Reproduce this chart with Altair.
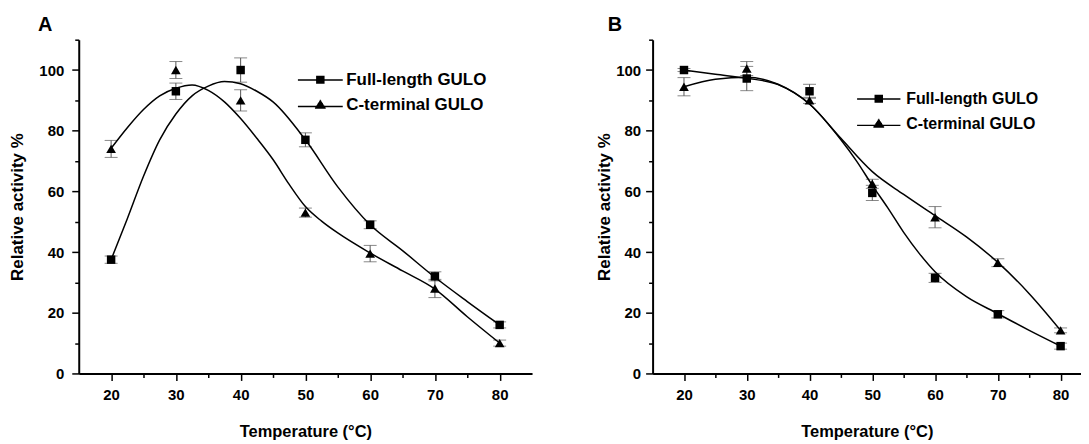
import altair as alt
import pandas as pd

TEMPS = [20, 30, 40, 50, 60, 70, 80]
SERIES = ["Full-length GULO", "C-terminal GULO"]

# Panel A measured points (mean, error)
A_FULL = [37.5, 93, 100, 77, 49, 32, 16]
A_FULL_ERR = [1.2, 2.7, 4.0, 2.3, 1.3, 1.5, 1.0]
A_CTERM = [74, 100, 90, 53, 39.5, 28, 10]
A_CTERM_ERR = [2.8, 2.8, 3.5, 1.5, 2.7, 3.0, 1.0]

# Panel A fitted curves
A_FULL_FIT_T = [20, 22.5, 25, 27.5, 30, 32.5, 35, 37.5, 40, 42.5, 45, 50, 55, 60, 65, 70, 75, 80]
A_FULL_FIT = [37.5, 51, 65, 77, 85.5, 91.5, 94.7, 96.2, 95.5, 93, 89.5, 77, 61.5, 49, 40.5, 31.7, 23.7, 16]
A_CTERM_FIT_T = [20, 22.5, 25, 27.5, 30, 32.5, 35, 37.5, 40, 42.5, 45, 47.5, 50, 52.5, 55, 60, 65, 70, 75, 80]
A_CTERM_FIT = [74.2, 81, 87, 91.5, 94, 95.1, 93.3, 89.5, 84, 77.5, 70.5, 62.3, 55, 50.2, 46.3, 39.7, 33.8, 27.8, 18.7, 10]

# Panel B measured points (mean, error)
B_FULL = [100, 97.2, 93, 59.5, 31.5, 19.5, 9]
B_FULL_ERR = [0.5, 4.0, 2.3, 2.5, 1.5, 1.2, 1.0]
B_CTERM = [94.5, 100.5, 90, 62.5, 51.5, 36.5, 14.2]
B_CTERM_ERR = [3.0, 2.3, 1.0, 1.5, 3.5, 1.3, 0.8]

# Panel B fitted curves
B_FULL_FIT_T = [20, 25, 30, 35, 40, 45, 47.5, 50, 52.5, 55, 57.5, 60, 65, 70, 75, 80]
B_FULL_FIT = [100, 98.6, 97.3, 95.2, 88.8, 77, 70, 62, 54.5, 46.5, 39.5, 33.5, 25.3, 19.7, 14.2, 9]
B_CTERM_FIT_T = [20, 25, 30, 35, 40, 45, 50, 55, 60, 65, 70, 75, 80]
B_CTERM_FIT = [94.5, 97, 97.6, 95.3, 88.8, 77.5, 66.5, 59, 52, 45, 36.6, 26.3, 14.2]

X_TICKS = [20, 25, 30, 35, 40, 45, 50, 55, 60, 65, 70, 75, 80]
Y_TICKS = [0, 10, 20, 30, 40, 50, 60, 70, 80, 90, 100, 110]

FONT = "Liberation Sans"


def legend_paths(half):
    # legend glyphs: a horizontal line with a marker drawn from stacked strokes
    step = 0.22
    sq = [f"M-{half},0H{half}"]
    y = -0.72
    while y <= 0.73:
        sq.append(f"M-0.85,{y:.2f}H0.85")
        y += step
    tri = [f"M-{half},0.3H{half}"]
    y = -0.9
    while y <= 0.68:
        hw = 1.15 * (y + 1.05) / 1.8
        tri.append(f"M{-hw:.2f},{y:.2f}H{hw:.2f}")
        y += step
    return ["".join(sq), "".join(tri)]


def panel(label, full, full_err, cterm, cterm_err, full_fit_t, full_fit, cterm_fit_t, cterm_fit,
          width, height, xmax, title_dx, ytitle_pad, ylabel_pad, leg_x, leg_y, leg_half,
          leg_font, leg_row_pad, leg_label_offset):
    pts = pd.DataFrame({
        "temp": TEMPS * 2,
        "value": full + cterm,
        "err": full_err + cterm_err,
        "series": [SERIES[0]] * len(TEMPS) + [SERIES[1]] * len(TEMPS),
    })
    fit = pd.DataFrame({
        "temp": full_fit_t + cterm_fit_t,
        "value": full_fit + cterm_fit,
        "series": [SERIES[0]] * len(full_fit_t) + [SERIES[1]] * len(cterm_fit_t),
    })

    x_axis = alt.Axis(
        values=X_TICKS,
        labelExpr="datum.value % 10 == 0 ? datum.label : ''",
        tickSize={"condition": {"test": "datum.value % 10 == 0", "value": 7}, "value": 4},
        labelPadding=7, titlePadding=21, labelOverlap=False, labelFlush=False,
        titleFontSize=16.5,
    )
    y_axis = alt.Axis(
        values=Y_TICKS,
        labelExpr="(datum.value % 20 == 0 && datum.value <= 100) ? datum.label : ''",
        tickSize={"condition": {"test": "datum.value % 20 == 0 && datum.value <= 100", "value": 7}, "value": 4},
        labelPadding=ylabel_pad, titlePadding=ytitle_pad, labelOverlap=False, labelFlush=False,
        titleFontSize=17,
    )

    def X(field):
        return alt.X(f"{field}:Q", scale=alt.Scale(domain=[15, xmax], nice=False, zero=False),
                     axis=x_axis, title="Temperature (°C)")

    def Y(field):
        return alt.Y(f"{field}:Q", scale=alt.Scale(domain=[0, 110], nice=False),
                     axis=y_axis, title="Relative activity %")

    base = alt.Chart(pts)
    err = base.transform_calculate(
        lo="datum.value - datum.err", hi="datum.value + datum.err"
    )
    rules = err.mark_rule(color="#555555", strokeWidth=1).encode(x=X("temp"), y=Y("lo"), y2="hi:Q")
    caps = err.transform_fold(["lo", "hi"], as_=["which", "cap"]).mark_tick(
        orient="horizontal", size=13, thickness=1, color="#555555"
    ).encode(x=X("temp"), y=Y("cap"))

    lines = alt.Chart(fit).mark_line(interpolate="monotone", color="black", strokeWidth=1.5).encode(
        x=X("temp"), y=Y("value"), detail="series:N"
    )

    points = base.mark_point(filled=True, color="black", opacity=1).encode(
        x=X("temp"), y=Y("value"),
        shape=alt.Shape("series:N", scale=alt.Scale(domain=SERIES, range=["square", "triangle-up"]), legend=None),
        size=alt.Size("series:N", scale=alt.Scale(domain=SERIES, range=[72, 95]), legend=None),
    )

    legend_layer = base.mark_point(filled=False, color="black", strokeWidth=1.4, opacity=0).encode(
        x=X("temp"), y=Y("value"),
        shape=alt.Shape(
            "series:N",
            scale=alt.Scale(domain=SERIES, range=legend_paths(leg_half)),
            legend=alt.Legend(
                title=None, orient="none", legendX=leg_x, legendY=leg_y, padding=0,
                symbolSize=100, symbolOpacity=1,
                symbolStrokeColor="black", symbolStrokeWidth=1.4,
                labelFont=FONT, labelFontSize=leg_font, labelFontWeight="bold", labelColor="black",
                labelOffset=leg_label_offset, rowPadding=leg_row_pad, labelLimit=300,
            ),
        ),
    )

    return alt.layer(rules, caps, lines, points, legend_layer).resolve_scale(
        shape="independent", size="independent"
    ).properties(
        width=width, height=height,
        title=alt.TitleParams(text=label, anchor="start", frame="group", dx=title_dx,
                              fontSize=20, font=FONT, fontWeight="bold", color="black", offset=-2),
    )


chart_a = panel("A", A_FULL, A_FULL_ERR, A_CTERM, A_CTERM_ERR,
                A_FULL_FIT_T, A_FULL_FIT, A_CTERM_FIT_T, A_CTERM_FIT,
                width=455, height=335, xmax=85, title_dx=-41, ytitle_pad=12, ylabel_pad=8,
                leg_x=234, leg_y=32, leg_half=4.5, leg_font=17, leg_row_pad=7, leg_label_offset=17.5)
chart_b = panel("B", B_FULL, B_FULL_ERR, B_CTERM, B_CTERM_ERR,
                B_FULL_FIT_T, B_FULL_FIT, B_CTERM_FIT_T, B_CTERM_FIT,
                width=430, height=335, xmax=83.25, title_dx=-45, ytitle_pad=2, ylabel_pad=5,
                leg_x=219, leg_y=51.5, leg_half=4.35, leg_font=16, leg_row_pad=9, leg_label_offset=19.5)

chart = alt.hconcat(chart_a, chart_b, spacing=63).properties(
    padding={"left": 0, "top": 6, "right": 0, "bottom": 0}
).configure_view(stroke=None).configure_axis(
    grid=False,
    domainColor="black", domainWidth=2,
    tickColor="black", tickWidth=1.5,
    labelFont=FONT, labelFontSize=15, labelFontWeight="bold", labelColor="black",
    titleFont=FONT, titleFontSize=15, titleFontWeight="bold", titleColor="black",
)

chart.save("out.html", embed_options={"renderer": "svg", "actions": False})
